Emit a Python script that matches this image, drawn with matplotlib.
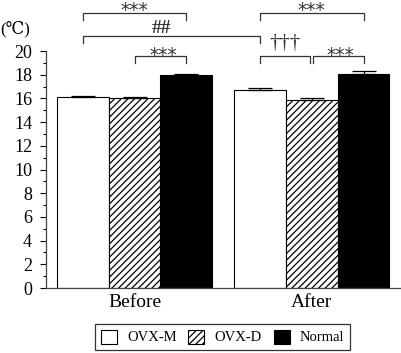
import numpy as np
import matplotlib
matplotlib.use("Agg")
import matplotlib.pyplot as plt
from matplotlib.ticker import MultipleLocator

plt.rcParams['font.family'] = ['Liberation Serif', 'DejaVu Serif']
plt.rcParams['hatch.linewidth'] = 0.9

# data
groups = ["Before", "After"]
series = ["OVX-M", "OVX-D", "Normal"]
before = [16.1, 16.0, 17.95]
after = [16.75, 15.9, 18.1]
before_err = [0.1, 0.1, 0.1]
after_err = [0.15, 0.15, 0.25]
yticks = [0, 2, 4, 6, 8, 10, 12, 14, 16, 18, 20]

values = np.array([before, after])
errs = np.array([before_err, after_err])

fig = plt.figure(figsize=(4.01, 3.53), dpi=100)
ax = fig.add_axes([0.1147, 0.1841, 0.8833, 0.6714])

width = 0.293
x = np.arange(len(groups))
faces = ["white", "white", "black"]
hatches = [None, "/////", None]
for i, name in enumerate(series):
    pos = x + (i - 1) * width
    ax.bar(pos, values[:, i], width, color=faces[i], edgecolor="black",
           hatch=hatches[i], linewidth=0.8, label=name, zorder=2)
    ax.errorbar(pos, values[:, i], yerr=[np.zeros(len(groups)), errs[:, i]],
                fmt="none", ecolor="black", elinewidth=0.9, capsize=8.5,
                capthick=0.9, zorder=3)

ax.set_xlim(-0.5, 1.5)
ax.set_ylim(0, 20)
ax.set_yticks(yticks)
ax.yaxis.set_minor_locator(MultipleLocator(1))
ax.set_xticks(x)
ax.set_xticklabels(groups, fontsize=14)
ax.tick_params(axis="x", length=0, pad=4)
ax.tick_params(axis="y", which="major", length=4, width=0.8, labelsize=13, pad=6)
ax.tick_params(axis="y", which="minor", length=2.5, width=0.8)
for s in ["top", "right"]:
    ax.spines[s].set_visible(False)
for s in ["left", "bottom"]:
    ax.spines[s].set_color("#444444")
    ax.spines[s].set_linewidth(0.9)

fig.text(0.0, 0.918, "(\u2103)", fontsize=12, va="center", ha="left")


def bracket(x1, x2, y, text, ty, tx=None, drop=0.6, **kw):
    ax.plot([x1, x1, x2, x2], [y - drop, y, y, y - drop], color="#333333",
            lw=0.9, clip_on=False)
    if tx is None:
        tx = (x1 + x2) / 2
    ax.text(tx, ty, text, ha="center", va="top", color="#333333",
            clip_on=False, **kw)


stars = dict(fontsize=13.5, family="DejaVu Sans")
c = (np.arange(3) - 1) * width
bracket(c[0], c[2], 23.23, "***", 24.25, **stars)
bracket(c[0], 1 + c[0], 21.27, "##", 22.6, tx=0.15, fontsize=14,
        fontweight="bold")
bracket(c[1], c[2], 19.58, "***", 20.4, tx=0.16, **stars)
bracket(1 + c[0], 1 + c[2], 23.23, "***", 24.25, **stars)
bracket(1 + c[0], 1 - 0.012, 19.58, "\u2020\u2020\u2020", 21.45, fontsize=15)
bracket(1 + 0.005, 1 + c[2], 19.58, "***", 20.4, tx=1.16, **stars)

leg = fig.legend(loc="center", bbox_to_anchor=(0.555, 0.0453), ncol=3,
                 fontsize=10.5, frameon=True, fancybox=False,
                 handlelength=1.1, handleheight=1.1, handletextpad=0.7,
                 columnspacing=0.8, borderpad=0.4, edgecolor="black")
leg.get_frame().set_linewidth(0.9)

fig.savefig("out.png", dpi=100)
